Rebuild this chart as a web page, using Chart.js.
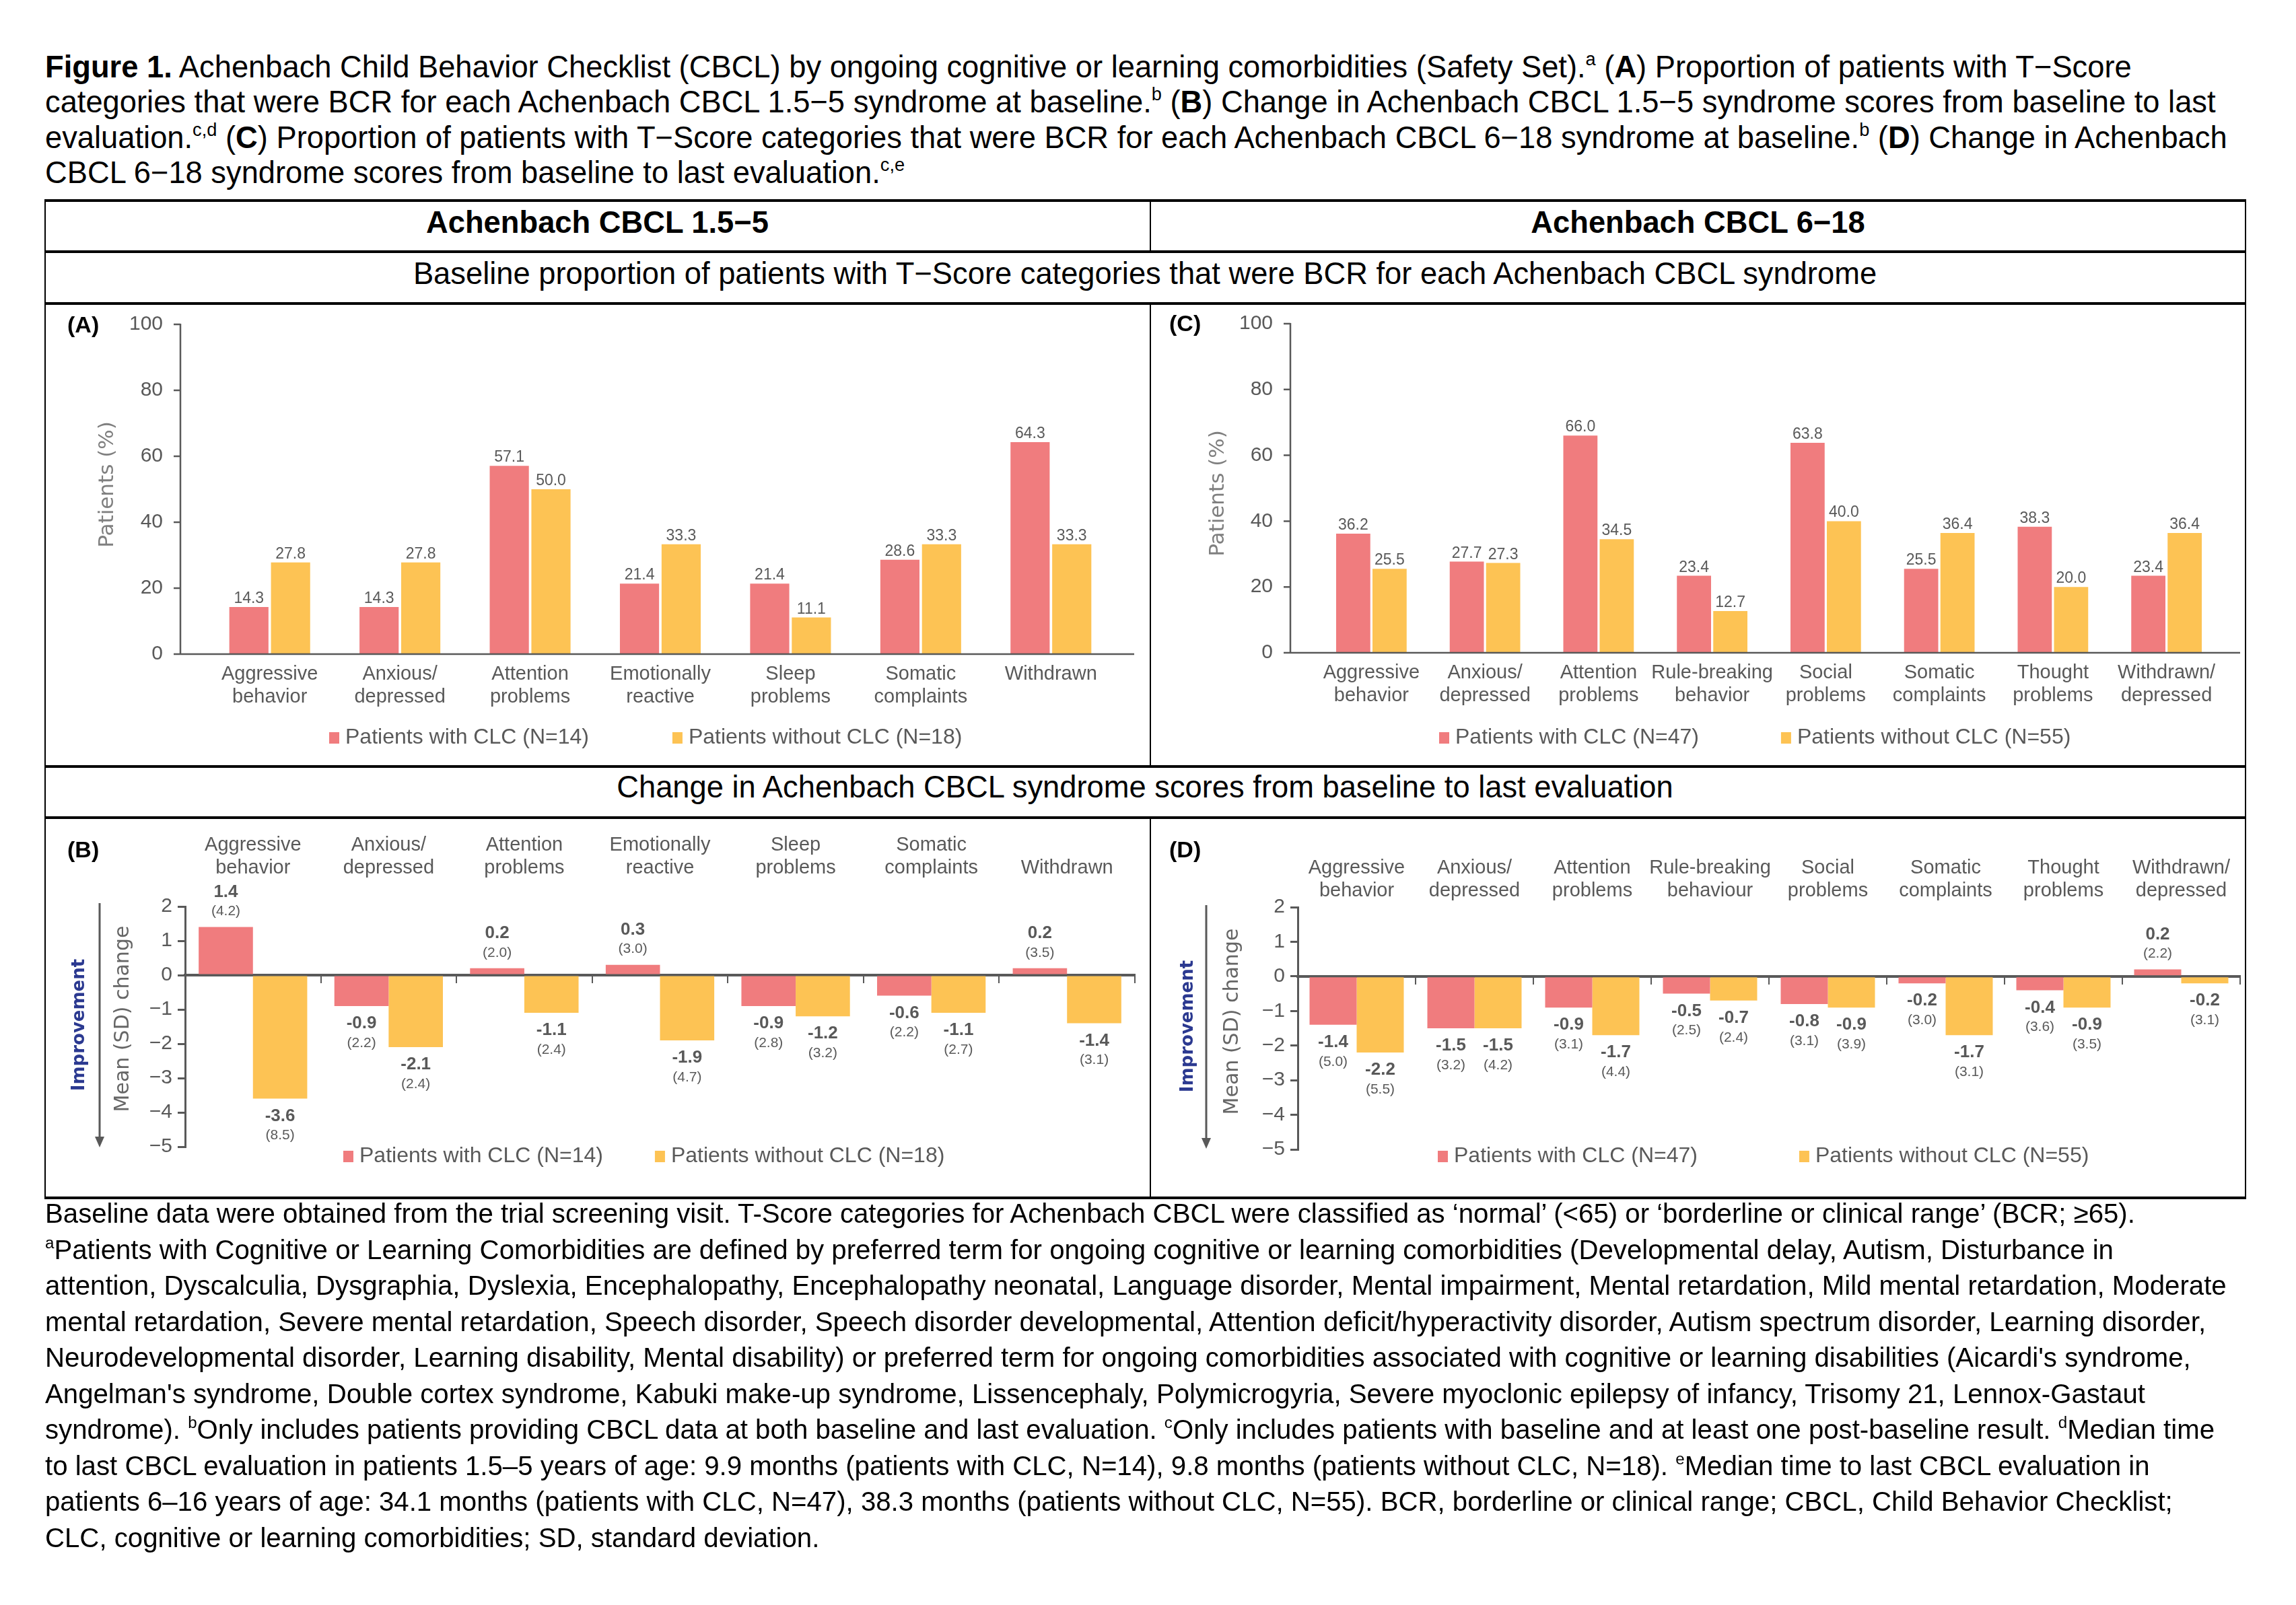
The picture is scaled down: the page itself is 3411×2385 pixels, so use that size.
<!DOCTYPE html>
<html>
<head>
<meta charset="utf-8">
<script src="https://cdn.jsdelivr.net/npm/chart.js@4.4.1/dist/chart.umd.min.js"></script>
<style>
  html, body { margin: 0; padding: 0; background: #fff; }
  body { width: 3411px; height: 2385px; position: relative; overflow: hidden;
         font-family: Arial, "Liberation Sans", sans-serif; color: #000; }
  .abs { position: absolute; white-space: nowrap; }
  .hl { position: absolute; background: #000; height: 4px; }
  .vl { position: absolute; background: #000; width: 2px; }
  sup { font-size: 0.6em; line-height: 0; vertical-align: 0.65em; }
  #title { left: 67px; top: 74px; font-size: 45.3px; line-height: 52.3px; }
  #notes { left: 67px; top: 1777px; font-size: 40.2px; line-height: 53.5px; }
  .hdr { font-size: 45.3px; line-height: 56px; text-align: center; }
  .tag { font-size: 34px; font-weight: bold; line-height: 40px; }
  canvas { position: absolute; }
</style>
</head>
<body>

<div id="title" class="abs">
<b>Figure 1.</b> Achenbach Child Behavior Checklist (CBCL) by ongoing cognitive or learning comorbidities (Safety Set).<sup>a</sup> (<b>A</b>) Proportion of patients with T&minus;Score<br>
categories that were BCR for each Achenbach CBCL 1.5&minus;5 syndrome at baseline.<sup>b</sup> (<b>B</b>) Change in Achenbach CBCL 1.5&minus;5 syndrome scores from baseline to last<br>
evaluation.<sup>c,d</sup> (<b>C</b>) Proportion of patients with T&minus;Score categories that were BCR for each Achenbach CBCL 6&minus;18 syndrome at baseline.<sup>b</sup> (<b>D</b>) Change in Achenbach<br>
CBCL 6&minus;18 syndrome scores from baseline to last evaluation.<sup>c,e</sup>
</div>

<!-- table frame -->
<div class="hl" style="left:66px;top:296px;width:3271px"></div>
<div class="hl" style="left:66px;top:372px;width:3271px"></div>
<div class="hl" style="left:66px;top:449px;width:3271px"></div>
<div class="hl" style="left:66px;top:1137px;width:3271px"></div>
<div class="hl" style="left:66px;top:1213px;width:3271px"></div>
<div class="hl" style="left:66px;top:1778px;width:3271px"></div>
<div class="vl" style="left:66px;top:296px;height:1486px"></div>
<div class="vl" style="left:3335px;top:296px;height:1486px"></div>
<div class="vl" style="left:1708px;top:296px;height:78px"></div>
<div class="vl" style="left:1708px;top:449px;height:692px"></div>
<div class="vl" style="left:1708px;top:1213px;height:569px"></div>

<div class="abs hdr" style="left:67px;top:303px;width:1641px"><b>Achenbach CBCL 1.5&minus;5</b></div>
<div class="abs hdr" style="left:1710px;top:303px;width:1625px"><b>Achenbach CBCL 6&minus;18</b></div>
<div class="abs hdr" style="left:67px;top:379px;width:3268px">Baseline proportion of patients with T&minus;Score categories that were BCR for each Achenbach CBCL syndrome</div>
<div class="abs hdr" style="left:67px;top:1142px;width:3268px">Change in Achenbach CBCL syndrome scores from baseline to last evaluation</div>

<canvas id="chartA" width="1638" height="684" style="left:69px;top:453px;width:1638px;height:684px"></canvas>
<canvas id="chartC" width="1622" height="684" style="left:1711px;top:453px;width:1622px;height:684px"></canvas>
<canvas id="chartB" width="1638" height="561" style="left:69px;top:1217px;width:1638px;height:561px"></canvas>
<canvas id="chartD" width="1622" height="561" style="left:1711px;top:1217px;width:1622px;height:561px"></canvas>

<div class="abs tag" style="left:100px;top:462px">(A)</div>
<div class="abs tag" style="left:1737px;top:460px">(C)</div>
<div class="abs tag" style="left:100px;top:1242px">(B)</div>
<div class="abs tag" style="left:1737px;top:1242px">(D)</div>

<div id="notes" class="abs">
Baseline data were obtained from the trial screening visit. T-Score categories for Achenbach CBCL were classified as &lsquo;normal&rsquo; (&lt;65) or &lsquo;borderline or clinical range&rsquo; (BCR; &ge;65).<br>
<sup>a</sup>Patients with Cognitive or Learning Comorbidities are defined by preferred term for ongoing cognitive or learning comorbidities (Developmental delay, Autism, Disturbance in<br>
attention, Dyscalculia, Dysgraphia, Dyslexia, Encephalopathy, Encephalopathy neonatal, Language disorder, Mental impairment, Mental retardation, Mild mental retardation, Moderate<br>
mental retardation, Severe mental retardation, Speech disorder, Speech disorder developmental, Attention deficit/hyperactivity disorder, Autism spectrum disorder, Learning disorder,<br>
Neurodevelopmental disorder, Learning disability, Mental disability) or preferred term for ongoing comorbidities associated with cognitive or learning disabilities (Aicardi's syndrome,<br>
Angelman's syndrome, Double cortex syndrome, Kabuki make-up syndrome, Lissencephaly, Polymicrogyria, Severe myoclonic epilepsy of infancy, Trisomy 21, Lennox-Gastaut<br>
syndrome). <sup>b</sup>Only includes patients providing CBCL data at both baseline and last evaluation. <sup>c</sup>Only includes patients with baseline and at least one post-baseline result. <sup>d</sup>Median time<br>
to last CBCL evaluation in patients 1.5&ndash;5 years of age: 9.9 months (patients with CLC, N=14), 9.8 months (patients without CLC, N=18). <sup>e</sup>Median time to last CBCL evaluation in<br>
patients 6&ndash;16 years of age: 34.1 months (patients with CLC, N=47), 38.3 months (patients without CLC, N=55). BCR, borderline or clinical range; CBCL, Child Behavior Checklist;<br>
CLC, cognitive or learning comorbidities; SD, standard deviation.
</div>

<script>
// --- data ---
const labels15 = [['Aggressive', 'behavior'], ['Anxious/', 'depressed'], ['Attention', 'problems'],
    ['Emotionally', 'reactive'], ['Sleep', 'problems'], ['Somatic', 'complaints'], ['Withdrawn']];
const labels618C = [['Aggressive', 'behavior'], ['Anxious/', 'depressed'], ['Attention', 'problems'],
    ['Rule-breaking', 'behavior'], ['Social', 'problems'], ['Somatic', 'complaints'],
    ['Thought', 'problems'], ['Withdrawn/', 'depressed']];
const labels618D = [['Aggressive', 'behavior'], ['Anxious/', 'depressed'], ['Attention', 'problems'],
    ['Rule-breaking', 'behaviour'], ['Social', 'problems'], ['Somatic', 'complaints'],
    ['Thought', 'problems'], ['Withdrawn/', 'depressed']];

const names15 = ['Patients with CLC (N=14)', 'Patients without CLC (N=18)'];
const names618 = ['Patients with CLC (N=47)', 'Patients without CLC (N=55)'];

// (A) baseline % BCR, CBCL 1.5-5
const baseWith15 = [14.3, 14.3, 57.1, 21.4, 21.4, 28.6, 64.3];
const baseWithout15 = [27.8, 27.8, 50.0, 33.3, 11.1, 33.3, 33.3];
// (C) baseline % BCR, CBCL 6-18
const baseWith618 = [36.2, 27.7, 66.0, 23.4, 63.8, 25.5, 38.3, 23.4];
const baseWithout618 = [25.5, 27.3, 34.5, 12.7, 40.0, 36.4, 20.0, 36.4];
// (B) mean (SD) change, CBCL 1.5-5
const chgWith15 = [1.4, -0.9, 0.2, 0.3, -0.9, -0.6, 0.2];
const sdWith15 = [4.2, 2.2, 2.0, 3.0, 2.8, 2.2, 3.5];
const chgWithout15 = [-3.6, -2.1, -1.1, -1.9, -1.2, -1.1, -1.4];
const sdWithout15 = [8.5, 2.4, 2.4, 4.7, 3.2, 2.7, 3.1];
// (D) mean (SD) change, CBCL 6-18
const chgWith618 = [-1.4, -1.5, -0.9, -0.5, -0.8, -0.2, -0.4, 0.2];
const sdWith618 = [5.0, 3.2, 3.1, 2.5, 3.1, 3.0, 3.6, 2.2];
const chgWithout618 = [-2.2, -1.5, -1.7, -0.7, -0.9, -1.7, -0.9, -0.2];
const sdWithout618 = [5.5, 4.2, 4.4, 2.4, 3.9, 3.1, 3.5, 3.1];

const pctTicks = [0, 20, 40, 60, 80, 100];
const changeTicks = [-5, -4, -3, -2, -1, 0, 1, 2];

// --- styling ---
const RED = '#F07C7E';
const YELLOW = '#FDC354';
const GREY = '#595959';
const FONT = 'Arial, "Liberation Sans", sans-serif';

Chart.defaults.font.family = FONT;
Chart.defaults.color = GREY;

// fixed scale sizes so the plot areas line up with the original panels
// (tick padding would otherwise be added to the top/bottom padding too)
const fixWidth = w => s => { s.width = w; s.paddingTop = 18; s.paddingBottom = 18; };
const fixHeight = h => s => { s.height = h; };
const signed = v => v < 0 ? '\u2212' + Math.abs(v) : String(v);

// draws the things the built-in scales/legend can't place like the original:
// detached axes, bar labels, legend row, rotated titles, the improvement arrow
const decor = {
    id: 'decor',
    afterDatasetsDraw(chart, args, opts) {
        const ctx = chart.ctx;
        const area = chart.chartArea;
        ctx.save();

        if (opts.axes) {
            const a = opts.axes;
            const ax = area.left - a.gapLeft;
            const ys = chart.scales.y;
            ctx.strokeStyle = GREY;
            ctx.lineWidth = a.width;
            ctx.beginPath();
            ctx.moveTo(ax, area.top - 1);
            ctx.lineTo(ax, area.bottom);
            ctx.lineTo(area.right + a.gapRight, area.bottom);
            ys.ticks.forEach(t => {
                const y = ys.getPixelForValue(t.value);
                ctx.moveTo(ax - a.tick, y);
                ctx.lineTo(ax, y);
            });
            ctx.stroke();
        }

        // value labels
        ctx.textAlign = 'center';
        chart.data.datasets.forEach((ds, i) => {
            chart.getDatasetMeta(i).data.forEach((bar, j) => {
                const v = ds.data[j];
                ctx.fillStyle = GREY;
                if (ds.sd) {
                    const down = v < 0;
                    ctx.textBaseline = 'middle';
                    ctx.font = 'bold 26px ' + FONT;
                    ctx.fillText(v.toFixed(1), bar.x, bar.y + (down ? 26 : -52));
                    ctx.font = '21px ' + FONT;
                    ctx.fillText('(' + ds.sd[j].toFixed(1) + ')', bar.x, bar.y + (down ? 55 : -23));
                } else {
                    ctx.textBaseline = 'alphabetic';
                    ctx.font = '23px ' + FONT;
                    ctx.fillText(v.toFixed(1), bar.x, bar.y - 6);
                }
            });
        });

        // legend row
        if (opts.legend) {
            const lg = opts.legend;
            let x = lg.x;
            ctx.font = '32px ' + FONT;
            ctx.textAlign = 'left';
            ctx.textBaseline = 'middle';
            chart.data.datasets.forEach(ds => {
                ctx.fillStyle = ds.backgroundColor;
                ctx.fillRect(x, lg.y - 8, 15, 17);
                x += 24;
                ctx.fillStyle = GREY;
                ctx.fillText(ds.label, x, lg.y);
                x += ctx.measureText(ds.label).width + lg.gap;
            });
        }

        // rotated axis title
        if (opts.yTitle) {
            const t = opts.yTitle;
            ctx.save();
            ctx.translate(t.x, t.y);
            ctx.rotate(-Math.PI / 2);
            ctx.font = t.size + 'px "DejaVu Sans"';
            ctx.fillStyle = t.color;
            ctx.textAlign = 'center';
            ctx.textBaseline = 'middle';
            ctx.fillText(t.text, 0, 0);
            ctx.restore();
        }

        if (opts.improve) {
            const m = opts.improve;
            ctx.save();
            ctx.translate(m.x, m.y);
            ctx.rotate(-Math.PI / 2);
            ctx.font = 'bold 26px "DejaVu Sans"';
            ctx.fillStyle = '#2B3990';
            ctx.textAlign = 'center';
            ctx.textBaseline = 'middle';
            ctx.fillText('Improvement', 0, 0);
            ctx.restore();

            ctx.strokeStyle = GREY;
            ctx.fillStyle = GREY;
            ctx.lineWidth = 3;
            ctx.beginPath();
            ctx.moveTo(m.arrowX, m.top);
            ctx.lineTo(m.arrowX, m.tip - 14);
            ctx.stroke();
            ctx.beginPath();
            ctx.moveTo(m.arrowX - 7, m.tip - 16);
            ctx.lineTo(m.arrowX + 7, m.tip - 16);
            ctx.lineTo(m.arrowX, m.tip);
            ctx.closePath();
            ctx.fill();
        }
        ctx.restore();
    }
};

function baselineChart(id, labels, withVals, withoutVals, names, box) {
    return new Chart(document.getElementById(id), {
        type: 'bar',
        data: {
            labels: labels,
            datasets: [
                { label: names[0], data: withVals, backgroundColor: RED, categoryPercentage: 0.64, barPercentage: 0.94 },
                { label: names[1], data: withoutVals, backgroundColor: YELLOW, categoryPercentage: 0.64, barPercentage: 0.94 }
            ]
        },
        options: {
            responsive: false,
            animation: false,
            events: [],
            layout: { padding: { top: box.top, right: box.right, left: 0, bottom: 0 } },
            scales: {
                x: {
                    grid: { display: false, drawTicks: false },
                    border: { display: false },
                    ticks: { font: { size: 29, lineHeight: 1.18 }, color: GREY, padding: 13, maxRotation: 0, autoSkip: false },
                    afterFit: fixHeight(box.xHeight)
                },
                y: {
                    min: 0, max: 100,
                    afterBuildTicks: s => { s.ticks = pctTicks.map(v => ({ value: v })); },
                    grid: { display: false, drawTicks: false },
                    border: { display: false },
                    ticks: { font: { size: 30 }, color: GREY, padding: box.tickPad },
                    afterFit: fixWidth(box.yWidth)
                }
            },
            plugins: {
                legend: { display: false },
                tooltip: { enabled: false },
                decor: {
                    axes: { gapLeft: 36, gapRight: box.gapRight, tick: 10, width: 2.5 },
                    legend: box.legend,
                    yTitle: { text: 'Patients (%)', x: box.titleX, y: box.titleY, size: 31, color: '#7F7F7F' }
                }
            }
        },
        plugins: [decor]
    });
}

function changeChart(id, labels, withVals, withSd, withoutVals, withoutSd, names, box) {
    return new Chart(document.getElementById(id), {
        type: 'bar',
        data: {
            labels: labels,
            datasets: [
                { label: names[0], data: withVals, sd: withSd, backgroundColor: RED, xAxisID: 'x', categoryPercentage: 0.8, barPercentage: 1 },
                { label: names[1], data: withoutVals, sd: withoutSd, backgroundColor: YELLOW, xAxisID: 'x', categoryPercentage: 0.8, barPercentage: 1 }
            ]
        },
        options: {
            responsive: false,
            animation: false,
            events: [],
            layout: { padding: { top: 0, right: box.right, left: 0, bottom: box.bottom } },
            scales: {
                x: {
                    position: { y: 0 },
                    offset: true,
                    z: 1,
                    grid: { offset: true, drawOnChartArea: false, drawTicks: true, tickLength: 10, color: GREY, lineWidth: 2 },
                    border: { display: true, color: GREY, width: 4 },
                    ticks: { display: false }
                },
                x2: {
                    axis: 'x',
                    type: 'category',
                    position: 'top',
                    offset: true,
                    grid: { display: false, drawTicks: false },
                    border: { display: false },
                    ticks: { font: { size: 29, lineHeight: 1.18 }, color: GREY, padding: box.labelPad, maxRotation: 0, autoSkip: false },
                    afterFit: fixHeight(box.top)
                },
                y: {
                    min: -5, max: 2,
                    afterBuildTicks: s => { s.ticks = changeTicks.map(v => ({ value: v })); },
                    grid: { drawOnChartArea: false, drawTicks: true, tickLength: 11, color: GREY, lineWidth: 3 },
                    border: { display: true, color: GREY, width: 3 },
                    ticks: { font: { size: 30 }, color: GREY, padding: 8, callback: v => signed(v) },
                    afterFit: fixWidth(box.yWidth)
                }
            },
            plugins: {
                legend: { display: false },
                tooltip: { enabled: false },
                decor: {
                    legend: box.legend,
                    yTitle: { text: 'Mean (SD) change', x: box.titleX, y: box.titleY, size: 30, color: '#666666' },
                    improve: box.improve
                }
            }
        },
        plugins: [decor]
    });
}

baselineChart('chartA', labels15, baseWith15, baseWithout15, names15, {
    top: 29, right: 49, xHeight: 165, yWidth: 235, tickPad: 62, gapRight: 27,
    legend: { x: 420, y: 643, gap: 124 }, titleX: 91, titleY: 267
});
baselineChart('chartC', labels618C, baseWith618, baseWithout618, names618, {
    top: 28, right: 30, xHeight: 167, yWidth: 242, tickPad: 62, gapRight: 25,
    legend: { x: 427, y: 643, gap: 122 }, titleX: 99, titleY: 280
});
changeChart('chartB', labels15, chgWith15, sdWith15, chgWithout15, sdWithout15, names15, {
    top: 130, right: 21, bottom: 74, yWidth: 206, labelPad: 40,
    legend: { x: 441, y: 501, gap: 77 }, titleX: 114, titleY: 297,
    improve: { x: 49, y: 306, arrowX: 79, top: 125, tip: 488 }
});
changeChart('chartD', labels618D, chgWith618, sdWith618, chgWithout618, sdWithout618, names618, {
    top: 131, right: 5, bottom: 70, yWidth: 217, labelPad: 7,
    legend: { x: 425, y: 501, gap: 151 }, titleX: 120, titleY: 301,
    improve: { x: 54, y: 308, arrowX: 81, top: 128, tip: 490 }
});
</script>
</body>
</html>
